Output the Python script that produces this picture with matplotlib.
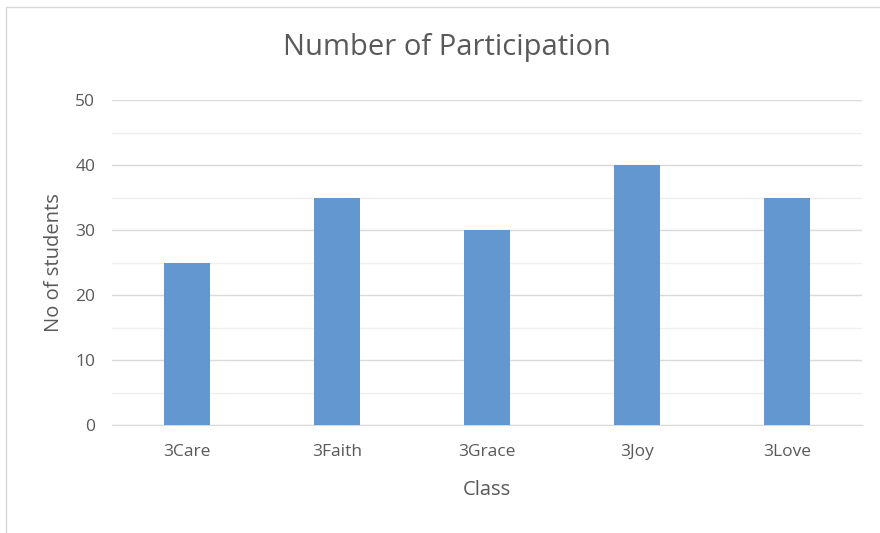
import matplotlib
matplotlib.use("Agg")
import matplotlib.pyplot as plt
import matplotlib.patches as patches
import numpy as np

# chart data
classes = ["3Care", "3Faith", "3Grace", "3Joy", "3Love"]
students = [25, 35, 30, 40, 35]

plt.rcParams["font.family"] = ["Open Sans", "DejaVu Sans"]

fig = plt.figure(figsize=(8.8, 5.33), dpi=100)
ax = fig.add_axes([112 / 880, 1 - 425 / 533, 750 / 880, 325 / 533])

x = np.arange(len(classes))
ax.bar(x, students, width=0.31, color="#6297d0", zorder=3)

ax.set_xlim(-0.5, len(classes) - 0.5)
ax.set_ylim(0, 50)
ax.set_yticks(np.arange(0, 51, 10))
ax.set_yticks(np.arange(5, 50, 10), minor=True)
ax.set_xticks(x)
ax.set_xticklabels(classes)

ax.grid(axis="y", which="major", color="#d9d9d9", linewidth=1, zorder=0)
ax.grid(axis="y", which="minor", color="#efefef", linewidth=1, zorder=0)
for s in ["top", "right", "left"]:
    ax.spines[s].set_visible(False)
ax.spines["bottom"].set_color("#d9d9d9")

ax.tick_params(axis="both", which="both", length=0, labelsize=12.5, colors="#595959")
ax.tick_params(axis="x", pad=14)
ax.tick_params(axis="y", pad=12)

ax.set_ylabel("No of students", fontsize=14.5, color="#595959", labelpad=8)
ax.set_xlabel("Class", fontsize=14.5, color="#595959", labelpad=14)

fig.text(447 / 880, 1 - 47 / 533, "Number of Participation", fontsize=21,
         color="#595959", ha="center", va="center")

# chart border, cut off on the right and bottom
border = patches.Rectangle((6 / 880, -0.1), 1.1, 1.1 - 7 / 533, transform=fig.transFigure,
                           fill=False, edgecolor="#d9d9d9", linewidth=1)
fig.patches.append(border)

fig.savefig("out.png", dpi=100)
